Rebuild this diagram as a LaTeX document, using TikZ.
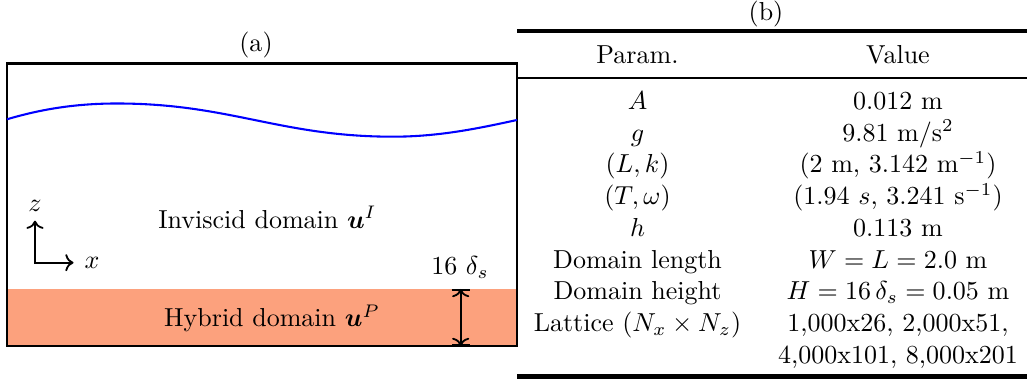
\documentclass[tikz,border=0pt]{standalone}
\usepackage{amsmath}
\usepackage{bm}
\usetikzlibrary{arrows.meta}
\definecolor{hybridfill}{RGB}{252,161,125}
\definecolor{wavecol}{RGB}{0,0,255}
\begin{document}
\begin{tikzpicture}[x=0.3846pt,y=-0.3846pt,
  txt/.style={anchor=base,inner sep=0pt,outer sep=0pt},
  framebox/.style={draw=black,line width=0.8pt},
  wave/.style={draw=wavecol,line width=0.8pt},
  axisline/.style={line width=0.7pt},
  dimline/.style={line width=0.7pt},
  heavyrule/.style={line width=1.6pt},
  lightrule/.style={line width=0.8pt}]
\useasboundingbox (0,0) rectangle (1027,381);

% ---------- panel (a) ----------
\fill[hybridfill] (7,289) rectangle (517,346);
\draw[framebox] (7,63.5) rectangle (517,346);
\draw[wave] (7,119.3) .. controls (45,108) and (80,103.5) .. (117,103.5)
  .. controls (230,103.5) and (280,136.7) .. (393,136.7)
  .. controls (440,136.7) and (480,128) .. (517,120);

\coordinate (orig) at (35,262.7);
\coordinate (ztip) at (35,220.7);
\coordinate (xtip) at (73.5,262.7);
\draw[axisline,<->] (ztip) -- (orig) -- (xtip);
\node[txt] (zlab) at (35,211.7) {$z$};
\node[txt] (xlab) at (92,269) {$x$};

\node[txt] (a) at (256,51.8) {(a)};
\node[txt] (inv) at (267.5,228.3) {Inviscid domain $\bm{u}^I$};
\node[txt] (hyb) at (272,326.7) {Hybrid domain $\bm{u}^P$};
\node[txt] (dimlab) at (460,275) {16 $\delta_s$};
\coordinate (dtop) at (460.7,289);
\coordinate (dbot) at (460.7,346);
\draw[dimline,{Bar[width=7pt]}-{Bar[width=7pt]}] (dtop) -- (dbot);
\draw[dimline,<->] (dtop) -- (dbot);

% ---------- panel (b) ----------
\node[txt] (b) at (766,20.2) {(b)};
\draw[heavyrule] (517,31) -- (1027,31);
\draw[lightrule] (517,77.7) -- (1027,77.7);
\draw[heavyrule] (517,376.5) -- (1027,376.5);

\node[txt] (hp) at (637.5,63.3) {Param.};
\node[txt] (hv) at (898,63.3) {Value};

\node[txt] (p1) at (637.5,109.3) {$A$};
\node[txt] (v1) at (898,109.3) {0.012 m};
\node[txt] (p2) at (637.5,141.05) {$g$};
\node[txt] (v2) at (898,141.05) {9.81 m/s$^2$};
\node[txt] (p3) at (637.5,172.8) {$(L,k)$};
\node[txt] (v3) at (898,172.8) {(2 m, 3.142 m$^{-1}$)};
\node[txt] (p4) at (637.5,204.55) {$(T,\omega)$};
\node[txt] (v4) at (898,204.55) {(1.94 $s$, 3.241 s$^{-1}$)};
\node[txt] (p5) at (637.5,236.3) {$h$};
\node[txt] (v5) at (898,236.3) {0.113 m};
\node[txt] (p6) at (637.5,268.05) {Domain length};
\node[txt] (v6) at (898,268.05) {$W=L=2.0$ m};
\node[txt] (p7) at (637.5,299.8) {Domain height};
\node[txt] (v7) at (898,299.8) {$H=16\,\delta_s=0.05$ m};
\node[txt] (p8) at (637.5,331.55) {Lattice ($N_x\times N_z$)};
\node[txt] (v8) at (898,331.55) {1,000x26, 2,000x51,};
\node[txt] (v9) at (898,363.3) {4,000x101, 8,000x201};
\end{tikzpicture}
\end{document}
